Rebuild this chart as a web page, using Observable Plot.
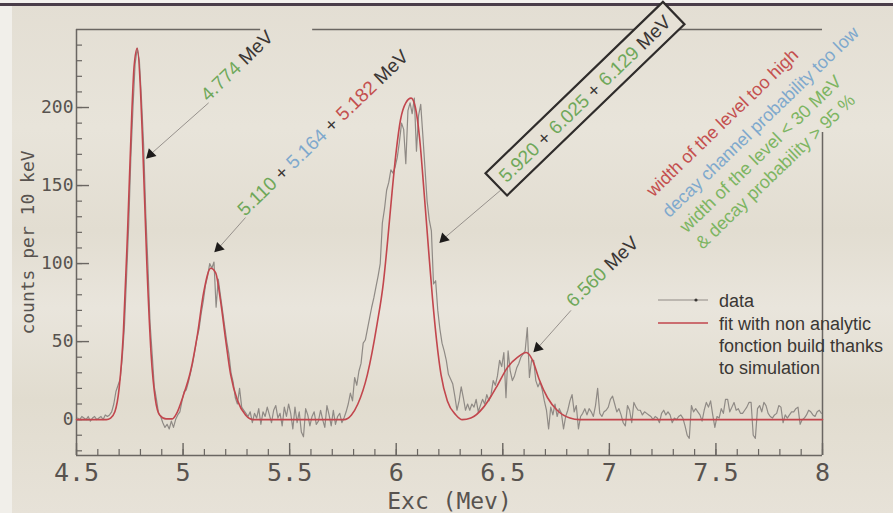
<!DOCTYPE html>
<html><head><meta charset="utf-8">
<script src="https://cdn.jsdelivr.net/npm/d3@7"></script>
<script src="https://cdn.jsdelivr.net/npm/@observablehq/plot@0.6"></script>
<style>
html,body{margin:0;padding:0;}
#wrap{position:relative;width:893px;height:513px;overflow:hidden;
 background:linear-gradient(to bottom,#e3ded3 0%,#e8e4da 25%,#e2ddd1 45%,#e9e5dc 60%,#e1dccf 78%,#e7e2d8 100%);}
#lstrip{position:absolute;left:0;top:0;width:12px;height:513px;background:#f1efea;}
#tstrip{position:absolute;left:0;top:0;width:893px;height:6px;background:linear-gradient(to bottom,#f3f1ee 0,#f3f1ee 3px,#4a3d49 3px,#4a3d49 6px);}
#wrap svg{position:absolute;left:0;top:0;}
</style></head><body><div id="wrap"><div id="lstrip"></div><div id="tstrip"></div></div>
<script>
// ---- data: counts per 10 keV bin (bins start at 4.50 MeV) ----
const countsA = [1,0,2,1,0,2,-1,1,2,0, 1,2,0,3,2,3,5,10,18,22, 26,40,60,92,125,168,200,228,238,230, 205,176,132,99,62,42,21,13,4,2, -2,-5,-3,-6,-1,-5,0,3,5,12];
const countsB = [18,19,24,30,36,44,52,58,68,76, 86,92,100,97,101,72,90,80,70,60, 50,42,30,24,14,10,20,8,6,4, 2,5,-2,4,1,7,-3,5,2,8, 3,-2,6,9,1,4,-4,8,2,10];
const countsC = [4,-6,8,-2,5,-8,-11,7,3,-4, 2,5,-3,-1,6,0,-5,9,3,-4, 6,-3,2,4,-2,1,5,10,17,12, 27,22,31,36,49,51,58,65,72,78, 85,92,100,126,135,147,152,160,158,162];
const countsD = [168,178,190,186,164,198,203,196,206,172, 195,202,182,161,140,128,121,87,89,70, 58,49,44,38,29,26,23,15,6,12, 21,14,6,10,6,10,8,13,5,9, 13,10,16,12,16,25,22,28,38,34];
const countsE = [43,14,44,31,25,28,33,36,40,42, 44,59,27,38,38,25,21,24,19,12, 6,-6,8,3,10,2,7,4,-6,2, 6,12,16,5,9,-6,2,4,7,3, 7,5,2,9,20,4,2,5,6,8];
const countsF = [13,15,10,5,7,3,-2,-4,9,6, -2,11,8,6,6,3,5,4,3,2, 0,2,1,-2,4,6,3,5,3,-2, 1,0,2,3,1,-4,-10,-12,9,5, 7,5,3,-1,6,11,8,12,3,-5];
const countsG = [2,1,7,4,13,13,5,8,11,6, 7,4,4,6,8,11,11,-10,-12,7, 9,5,11,9,4,2,1,3,4,9, 8,-2,3,1,3,5,5,7,8,-3, 0,1,3,6,5,3,2,5,6,4];
const binStart = 4.5, binWidth = 0.01;

// ---- fit curve (red) ----
const fitE = [4.50,4.64,4.66,4.68,4.70,4.72,4.74,4.76,4.77,4.785,4.80,4.81,4.83,4.85,4.87,4.89,4.92,4.95,4.97,5.00,5.035,5.068,5.096,5.13,5.153,5.176,5.20,5.223,5.256,5.293,5.33,5.755,5.79,5.82,5.865,5.91,5.94,5.96,5.98,6.00,6.02,6.045,6.07,6.09,6.11,6.13,6.15,6.17,6.19,6.21,6.24,6.28,6.31,6.35,6.41,6.445,6.475,6.52,6.57,6.61,6.64,6.67,6.71,6.755,6.815,6.86,8.00];
const fitC = [0,0,1,5,20,56,122,198,226,238, 212,178,100,42,13,3,0.5,0.5,4,15, 31,55,81,97,94,76,51,29,12,3, 0,0,3,10,29,61,88,115,145,172, 192,203,206,200,180,147,112,78,50,29, 12,3,0,1,8,15,22,33,40,43, 38,26,14,6,1,0,0];

// ---- axes ----
const xTicks = [4.5,5,5.5,6,6.5,7,7.5,8];
const xTickLabels = ["4.5","5","5.5","6","6.5","7","7.5","8"];
const yTicks = [0,50,100,150,200];
const yTickLabels = ["0","50","100","150","200"];
const xDomain = [4.5, 8], yDomain = [-23, 250];
const xTitle = "Exc (Mev)", yTitle = "counts per 10 keV";

// ---- annotations (peak labels) ----
const GREEN = "#6fa85a", BLUE = "#7fa9cd", RED = "#c4504f", DARK = "#3a3634";
const peakLabels = [
  {E: 5.12, c: 203, parts: [["4.774", GREEN], [" MeV", DARK]]},
  {E: 5.293, c: 129.5, parts: [["5.110", GREEN], [" + ", DARK], ["5.164", BLUE], [" + ", DARK], ["5.182", RED], [" MeV", DARK]]},
  {E: 6.52, c: 151, parts: [["5.920", GREEN], [" + ", DARK], ["6.025", GREEN], [" + ", DARK], ["6.129", GREEN], [" MeV", DARK]], boxed: true},
  {E: 6.835, c: 71, parts: [["6.560", GREEN], [" MeV", DARK]]}
];
const arrowFromE = [5.12, 5.293, 6.49, 6.82];
const arrowFromC = [203, 129.5, 147, 70];
const arrowToE = [4.847, 5.167, 6.223, 6.664];
const arrowToC = [170, 110, 116, 46];

const notes = [
  ["width of the level too high", RED],
  ["decay channel probability too low", BLUE],
  ["width of the level < 30 MeV", "#7db562"],
  ["& decay probability > 95 %", "#7db562"]
];
const notesAt = {E: 7.209, c: 142};
const legendLabels = ["data", "fit with non analytic", "fonction build thanks", "to simulation"];

// ---- build tables ----
const counts = [...countsA, ...countsB, ...countsC, ...countsD, ...countsE, ...countsF, ...countsG];
const data = counts.map((c, i) => ({E: binStart + binWidth * (i + 0.5), c}));
const fit = fitE.map((E, i) => ({E, c: fitC[i]}));
const arrows = arrowFromE.map((e, i) => ({x1: e, y1: arrowFromC[i], x2: arrowToE[i], y2: arrowToC[i]}));
const xMinor = d3.range(45, 81).map(d => d / 10);
const yMinor = d3.range(-2, 25).map(d => d * 10);

const AX = "#6a6662", TXT = "#58534f", MONO = "DejaVu Sans Mono, monospace";
const W = 893, H = 513, ML = 76, MR = 71, MT = 29, MB = 58;
const fw = W - ML - MR, fh = H - MT - MB;

const plot = Plot.plot({
  width: W, height: H, marginLeft: ML, marginRight: MR, marginTop: MT, marginBottom: MB,
  x: {domain: xDomain, label: null},
  y: {domain: yDomain, label: null},
  style: {background: "transparent", overflow: "visible"},
  marks: [
    Plot.ruleX([xDomain[0]], {stroke: AX, strokeWidth: 1.5}),
    Plot.ruleY([yDomain[0]], {stroke: AX, strokeWidth: 1.5}),
    Plot.ruleY([yDomain[1]], {x1: 4.5, x2: 5.364, stroke: AX, strokeWidth: 1.5}),
    Plot.ruleY([yDomain[1]], {x1: 5.608, x2: 8, stroke: AX, strokeWidth: 1.5}),
    Plot.ruleX([xDomain[1]], {y1: yDomain[0], y2: 184, stroke: AX, strokeWidth: 1.5}),
    Plot.tickX(xMinor, {x: d => d, stroke: AX, strokeWidth: 1.2, insetTop: fh - 6}),
    Plot.tickX(xTicks, {x: d => d, stroke: AX, strokeWidth: 1.4, insetTop: fh - 12}),
    Plot.tickY(yMinor, {y: d => d, stroke: AX, strokeWidth: 1.2, insetRight: fw - 6}),
    Plot.tickY(yTicks, {y: d => d, stroke: AX, strokeWidth: 1.4, insetRight: fw - 13}),
    Plot.axisX({ticks: xTicks, tickSize: 0, tickPadding: 8, tickFormat: d => xTickLabels[xTicks.indexOf(d)], label: null, fontSize: 25, fontFamily: MONO, color: TXT}),
    Plot.axisY({ticks: yTicks, tickSize: 0, tickPadding: 3, tickFormat: d => yTickLabels[yTicks.indexOf(d)], label: null, fontSize: 18, fontFamily: MONO, color: TXT}),
    Plot.text([yTitle], {frameAnchor: "left", dx: -48, rotate: -90, textAnchor: "middle", lineAnchor: "middle", fontSize: 18, fontFamily: MONO, fill: TXT}),
    Plot.text([xTitle], {frameAnchor: "bottom", dy: 53, lineAnchor: "bottom", fontSize: 23, fontFamily: MONO, fill: TXT}),
    Plot.link(arrows, {x1: "x1", y1: "y1", x2: "x2", y2: "y2", stroke: "#8d8883", strokeWidth: 0.9}),
    Plot.line(data, {x: "E", y: "c", stroke: "#8f8a85", strokeWidth: 1.2}),
    Plot.line(fit, {x: "E", y: "c", stroke: "#c2464d", strokeWidth: 1.6, curve: "monotone-x"}),
    Plot.dot(arrows, {x: "x2", y: "y2", symbol: "triangle", r: 4, fill: "#1d1b1a", stroke: "none", rotate: 225})
  ]
});
document.getElementById("wrap").appendChild(plot);

// ---- annotations drawn with the plot's own scales ----
const xs = plot.scale("x"), ys = plot.scale("y");
const svg = d3.select(plot);
const ANG = -44, SANS = "Liberation Sans, Arial, sans-serif";
const ann = svg.append("g").attr("font-family", SANS).attr("text-anchor", "start").style("white-space", "pre");
peakLabels.forEach(a => {
  const g = ann.append("g").attr("transform", `translate(${xs.apply(a.E)},${ys.apply(a.c)}) rotate(${ANG})`);
  const rect = a.boxed ? g.append("rect") : null;
  const t = g.append("text").attr("font-size", 19).attr("text-anchor", "start");
  a.parts.forEach(([s, col]) => t.append("tspan").attr("fill", col).text(s));
  if (rect) {
    const bb = t.node().getBBox();
    rect.attr("x", bb.x - 8).attr("y", bb.y - 5).attr("width", bb.width + 16).attr("height", bb.height + 10)
      .attr("fill", "#e6e1d6").attr("stroke", "#2f2c2b").attr("stroke-width", 2.2);
  }
});
const ng = ann.append("g").attr("transform", `translate(${xs.apply(notesAt.E)},${ys.apply(notesAt.c)}) rotate(${ANG})`);
const noteOffsets = [[0, 0], [-3, 26], [-1, 49], [-1, 72]];
notes.forEach(([s, col], i) => ng.append("text").attr("x", noteOffsets[i][0]).attr("y", noteOffsets[i][1])
  .attr("text-anchor", "start").attr("font-size", 18).attr("fill", col).text(s));

// legend
const lg = svg.append("g").attr("font-family", SANS).attr("font-size", 18).attr("fill", "#3a3734").attr("text-anchor", "start");
lg.append("line").attr("x1", 658).attr("x2", 708).attr("y1", 300).attr("y2", 300).attr("stroke", "#8f8a85").attr("stroke-width", 1.2);
lg.append("circle").attr("cx", 696).attr("cy", 300).attr("r", 1.6).attr("fill", "#3a3734");
lg.append("line").attr("x1", 658).attr("x2", 708).attr("y1", 323).attr("y2", 323).attr("stroke", "#c2464d").attr("stroke-width", 1.6);
legendLabels.forEach((s, i) => lg.append("text").attr("x", 719).attr("y", [307, 330, 352, 374][i]).text(s));
</script></body></html>
